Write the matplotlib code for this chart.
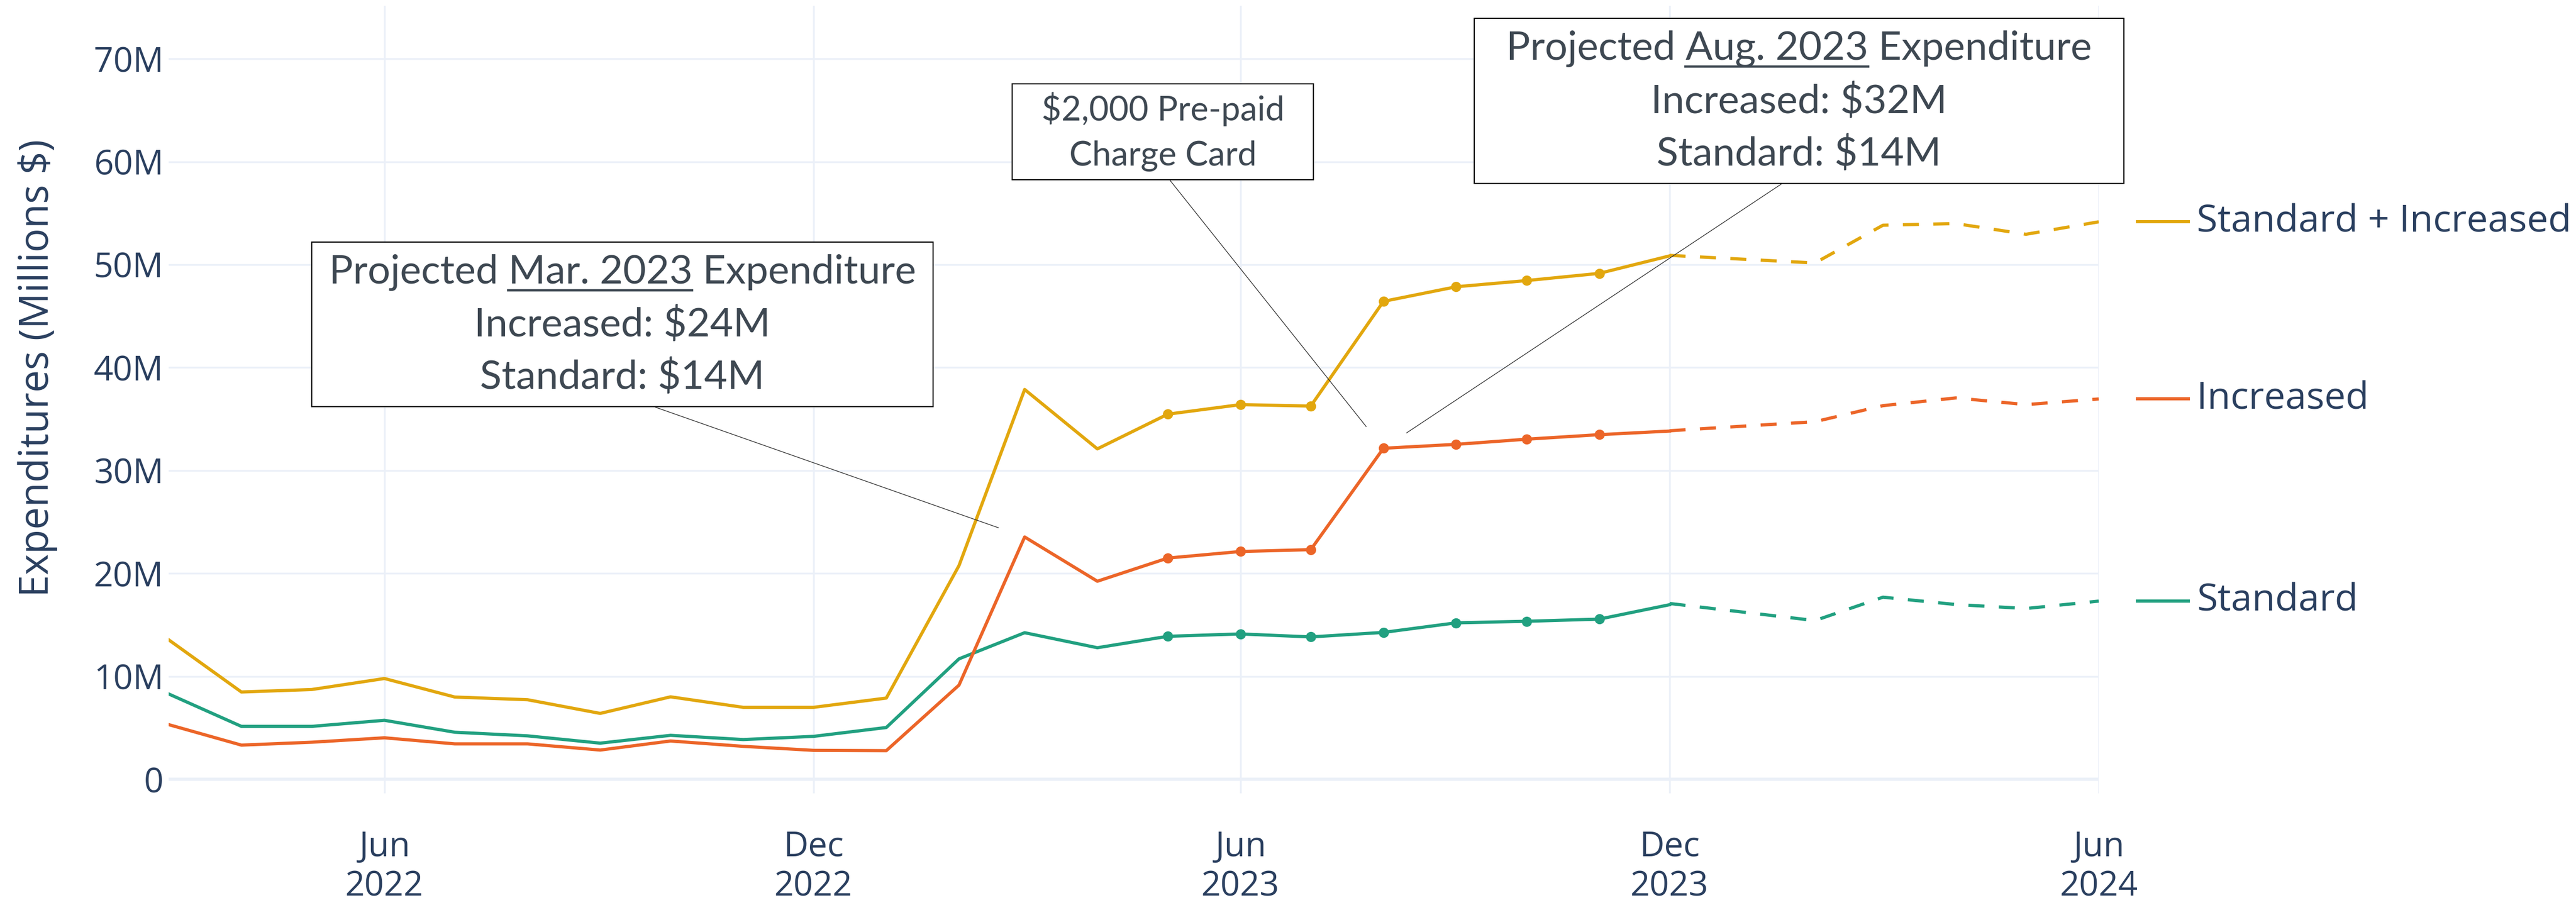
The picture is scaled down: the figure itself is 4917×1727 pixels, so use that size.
# Gráfico de gastos mensuales: Standard, Increased y Standard + Increased
import matplotlib
matplotlib.use('Agg')
import matplotlib.pyplot as plt
import matplotlib.transforms as mtransforms
import matplotlib.text as mtext
from matplotlib.lines import Line2D
from matplotlib.path import Path
import pandas as pd

plt.rcParams['text.parse_math'] = False

# Datos (millones de $)
meses = pd.date_range('2022-03-01', '2023-12-01', freq='MS')
estandar = [8.29, 5.14, 5.14, 5.73, 4.57, 4.22, 3.51, 4.27, 3.86, 4.17,
            5.03, 11.70, 14.24, 12.78, 13.89, 14.12, 13.83, 14.27, 15.20, 15.35, 15.56, 16.96]
aumentado = [5.31, 3.32, 3.60, 4.03, 3.44, 3.44, 2.84, 3.72, 3.20, 2.81,
             2.78, 9.15, 23.54, 19.24, 21.49, 22.13, 22.31, 32.16, 32.54, 33.04, 33.48, 33.83]
total = [13.55, 8.48, 8.72, 9.79, 7.99, 7.73, 6.40, 8.01, 6.99, 6.99,
         7.89, 20.76, 37.87, 32.10, 35.47, 36.40, 36.26, 46.43, 47.85, 48.45, 49.15, 50.85]

# Proyeccion (linea discontinua)
meses_proy = pd.to_datetime(['2023-12-01', '2024-02-01', '2024-03-01',
                             '2024-04-01', '2024-05-01', '2024-06-01'])
estandar_proy = [17.08, 15.42, 17.69, 16.98, 16.59, 17.31]
aumentado_proy = [33.86, 34.74, 36.30, 37.05, 36.40, 36.95]
total_proy = [50.90, 50.16, 53.83, 53.99, 52.95, 54.16]

# Meses con marcador (May - Nov 2023)
meses_marcados = pd.to_datetime(['2023-05-01', '2023-06-01', '2023-07-01', '2023-08-01',
                                 '2023-09-01', '2023-10-01', '2023-11-01'])

nombres = ['Standard + Increased', 'Increased', 'Standard']
colores = ['#E2A70E', '#EC6528', '#21A080']

ticks_x = pd.to_datetime(['2022-06-01', '2022-12-01', '2023-06-01', '2023-12-01', '2024-06-01'])
etiquetas_x = ['Jun\n2022', 'Dec\n2022', 'Jun\n2023', 'Dec\n2023', 'Jun\n2024']
ticks_y = [0, 10, 20, 30, 40, 50, 60, 70]
etiquetas_y = ['0', '10M', '20M', '30M', '40M', '50M', '60M', '70M']

COLOR_TEXTO = '#2a3f5f'
COLOR_NOTA = '#3e4852'
FUENTE = 'Open Sans'
FUENTE_NOTA = 'Lato'

fig = plt.figure(figsize=(49.17, 17.27), dpi=100)
ax = fig.add_axes([322 / 4917, 1 - 1514 / 1727, (4006 - 322) / 4917, (1514 - 11) / 1727])

# Series: reales (solidas) y proyectadas (discontinuas)
series = [(total, total_proy), (aumentado, aumentado_proy), (estandar, estandar_proy)]
for (reales, proy), color in zip(series[::-1], colores[::-1]):
    marcas = [i for i, m in enumerate(meses) if m in meses_marcados]
    ax.plot(meses, reales, color=color, lw=4.4, solid_joinstyle='round',
            marker='o', markevery=marcas, ms=13, mec=color, zorder=3)
    ax.plot(meses_proy, proy, color=color, lw=4.4, ls=(0, (5, 4.5)),
            dash_joinstyle='round', zorder=3)

ax.set_xlim(pd.Timestamp('2022-03-01'), pd.Timestamp('2024-06-01'))
ax.set_ylim(-1.37, 75.15)
ax.set_xticks(ticks_x)
ax.set_xticklabels(etiquetas_x, fontsize=47, color=COLOR_TEXTO, family=FUENTE,
                   linespacing=1.2)
ax.set_yticks(ticks_y)
ax.set_yticklabels(etiquetas_y, fontsize=47, color=COLOR_TEXTO, family=FUENTE)
ax.tick_params(axis='x', length=0, pad=50)
ax.tick_params(axis='y', length=0, pad=7)
for s in ax.spines.values():
    s.set_visible(False)
ax.grid(True, color='#ebf0f8', lw=2.5)
ax.axhline(0, color='#ebf0f8', lw=4.5, zorder=1)
ax.set_axisbelow(True)

ax.set_ylabel('Expenditures (Millions $)', fontsize=55, color=COLOR_TEXTO,
              family=FUENTE, va='center')
ax.yaxis.set_label_coords(-0.068, 0.54)

# Leyenda a la derecha, a la altura del ultimo valor
trans = mtransforms.blended_transform_factory(ax.transAxes, ax.transData)
ultimos = [total_proy[-1], aumentado_proy[-1], estandar_proy[-1]]
for nombre, color, y in zip(nombres, colores, ultimos):
    ax.add_line(Line2D([1.0201, 1.0464], [y, y], color=color, lw=4.4,
                       transform=trans, clip_on=False))
    ax.text(1.0508, y, nombre, transform=trans, fontsize=52, color=COLOR_TEXTO,
            family=FUENTE, va='center', ha='left')


# Caja con margen horizontal y vertical distinto
def caja(padx, pady):
    def estilo(x0, y0, width, height, mutation_size):
        px = padx * mutation_size
        py = pady * mutation_size
        return Path([(x0 - px, y0 - py), (x0 + width + px, y0 - py),
                     (x0 + width + px, y0 + height + py), (x0 - px, y0 + height + py),
                     (x0 - px, y0 - py)], closed=True)
    return estilo


def nota(texto, x, y, dx, dy, size, padx, pady, interlineado):
    return ax.annotate(texto, xy=(x, y), xytext=(dx, dy), textcoords='offset pixels',
                       ha='center', va='center', fontsize=size, color=COLOR_NOTA,
                       family=FUENTE_NOTA, linespacing=interlineado, zorder=10,
                       bbox=dict(boxstyle=caja(padx, pady), fc='white', ec='black', lw=1.6),
                       arrowprops=dict(arrowstyle='-', color='#333333', lw=1.0,
                                       relpos=(0.5, 0), shrinkA=0, shrinkB=38))


mar = pd.Timestamp('2023-03-01')
ago = pd.Timestamp('2023-08-01')
i_mar = list(meses).index(mar)
i_ago = list(meses).index(ago)

nota1 = nota('Projected Mar. 2023 Expenditure\nIncreased: $24M\nStandard: $14M',
             mar, aumentado[i_mar], -768, 405, 55, 0.43, 0.28, 1.5)
nota2 = nota('$2,000 Pre-paid\nCharge Card', ago, aumentado[i_ago], -421, 604, 47, 0.85, 0.25, 1.55)
nota3 = nota('Projected Aug. 2023 Expenditure\nIncreased: $32M\nStandard: $14M',
             ago, aumentado[i_ago], 793, 662, 55, 0.8, 0.28, 1.5)

# Subrayado de la fecha en las cajas
fig.canvas.draw()
rend = fig.canvas.get_renderer()


def subrayar(txt, antes, parte):
    bb = mtext.Text.get_window_extent(txt, rend)
    prop = txt.get_fontproperties()
    linea1 = txt.get_text().split('\n')[0]
    w_linea, _, _ = rend.get_text_width_height_descent(linea1, prop, False)
    w_pre, _, _ = rend.get_text_width_height_descent(antes + parte, prop, False)
    w_parte, _, _ = rend.get_text_width_height_descent(parte, prop, False)
    _, h_lp, d_lp = rend.get_text_width_height_descent('lp', prop, False)
    fs = rend.points_to_pixels(txt.get_size())
    x0 = (bb.x0 + bb.x1) / 2 - w_linea / 2 + (w_pre - w_parte)
    y = bb.y1 - (h_lp - d_lp) - 0.17 * fs
    fig.add_artist(Line2D([x0, x0 + w_parte], [y, y], color=COLOR_NOTA, lw=3.2,
                          transform=mtransforms.IdentityTransform(), zorder=11))


subrayar(nota1, 'Projected ', 'Mar. 2023')
subrayar(nota3, 'Projected ', 'Aug. 2023')

fig.savefig('out.png', dpi=100, facecolor='white')
